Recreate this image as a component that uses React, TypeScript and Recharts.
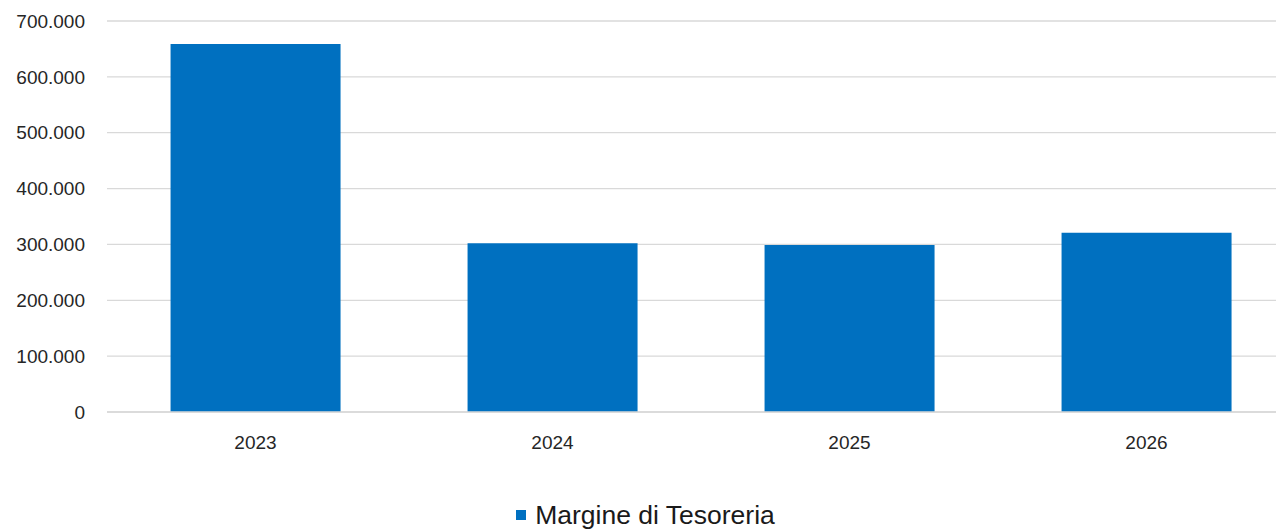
import React from "react";
import { BarChart, Bar, XAxis, YAxis, CartesianGrid, Legend } from "recharts";

const years = ["2023", "2024", "2025", "2026"];
const margineTesoreria = [659000, 302000, 299000, 321000];
const yTicks = [0, 100000, 200000, 300000, 400000, 500000, 600000, 700000];
const seriesName = "Margine di Tesoreria";

const data = years.map((y, i) => ({ year: y, value: margineTesoreria[i] }));

const fmt = (v: number) => String(v).replace(/\B(?=(\d{3})+(?!\d))/g, ".");

const FONT = "'Liberation Sans', Arial, sans-serif";

const LegendContent = () => (
  <div
    style={{
      display: "flex",
      justifyContent: "center",
      alignItems: "center",
      height: 32,
      fontFamily: FONT,
      fontSize: 26.5,
      color: "#1a1a1a",
      paddingLeft: 15,
    }}
  >
    <span style={{ display: "inline-block", width: 10, height: 10, background: "#0070C0", marginRight: 9 }} />
    <span>{seriesName}</span>
  </div>
);

export default function App() {
  return (
    <div style={{ position: "absolute", left: 0, top: 0, width: 1276, height: 531, overflow: "hidden", background: "#fff" }}>
      <BarChart
        width={1295}
        height={531}
        data={data}
        margin={{ top: 21, right: 0, bottom: 0, left: 0 }}
        barCategoryGap="21.4%"
      >
        <CartesianGrid vertical={false} stroke="#d9d9d9" strokeWidth={1.3} />
        <XAxis
          dataKey="year"
          height={87}
          tickLine={false}
          axisLine={{ stroke: "#d9d9d9", strokeWidth: 1.3 }}
          tickSize={0}
          tickMargin={24}
          tick={{ fill: "#262626", fontSize: 19, fontFamily: FONT }}
        />
        <YAxis
          width={107}
          domain={[0, 700000]}
          ticks={yTicks}
          tickFormatter={fmt}
          axisLine={false}
          tickLine={false}
          tickSize={0}
          tickMargin={22}
          tick={{ fill: "#262626", fontSize: 19, fontFamily: FONT }}
        />
        <Legend verticalAlign="bottom" height={32} content={<LegendContent />} wrapperStyle={{ width: 1276, left: 0 }} />
        <Bar dataKey="value" name={seriesName} fill="#0070C0" isAnimationActive={false} />
      </BarChart>
    </div>
  );
}
